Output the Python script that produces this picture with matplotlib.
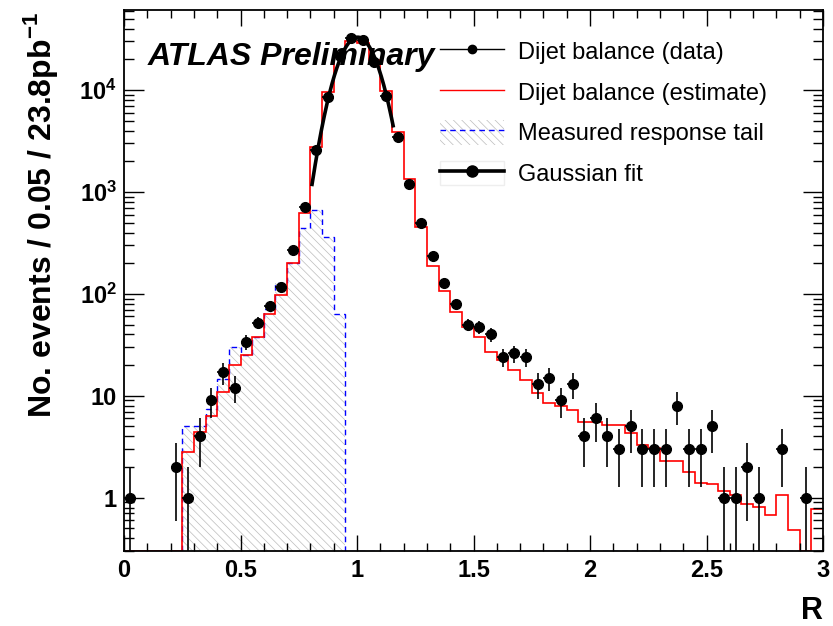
import numpy as np
import matplotlib
matplotlib.use('Agg')
import matplotlib.pyplot as plt
from matplotlib.lines import Line2D
from matplotlib.patches import Patch
from matplotlib.ticker import FixedLocator, MultipleLocator, LogLocator, NullFormatter, FixedFormatter

plt.rcParams['font.family'] = ['Liberation Sans', 'DejaVu Sans']
plt.rcParams['mathtext.fontset'] = 'custom'
plt.rcParams['mathtext.rm'] = 'Liberation Sans'
plt.rcParams['mathtext.bf'] = 'Liberation Sans:bold'
plt.rcParams['hatch.linewidth'] = 0.5

# 60 bins of width 0.05 in R, from 0 to 3
bin_edges = np.linspace(0, 3, 61)

# dijet balance, data (events per bin)
data_counts = [1, 0, 0, 0, 2, 1, 4, 9, 17, 12,
               34, 52, 76, 117, 270, 710, 2580, 8500, 21500, 32400,
               31000, 18700, 8700, 3500, 1200, 500, 235, 128, 80, 50,
               47, 40, 24, 26, 24, 13, 15, 9, 13, 4,
               6, 4, 3, 5, 3, 3, 3, 8, 3, 3,
               5, 1, 1, 2, 1, 0, 3, 0, 1, 0]

# dijet balance, estimate
estimate = [0, 0, 0, 0, 0, 2.8, 4.4, 6.4, 11, 20,
            25, 38, 63, 98, 200, 620, 2760, 9500, 21000, 30000,
            29000, 19500, 9800, 3870, 1340, 455, 188, 107, 66, 47,
            38, 27, 22.5, 18, 14.4, 10.7, 8.5, 8.0, 7.3, 5.5,
            5.5, 5.2, 5.2, 4.3, 3.3, 3.1, 2.3, 2.3, 1.8, 1.4,
            1.37, 1.17, 1.07, 0.87, 0.81, 0.67, 1.07, 0.48, 0, 0.78]

# measured response tail
tail_counts = [0, 0, 0, 0, 0, 5.0, 5.0, 7.5, 14.7, 30,
               25, 38, 71, 128, 200, 445, 665, 363, 63, 0] + [0] * 40

# gaussian fit
fit_amp = 33000
fit_mean = 1.003
fit_sigma = 0.076
fit_range = (0.807, 1.155)

y_lo, y_hi = 0.30, 6.1e4
hatch_col = '#bcbcbc'

fig = plt.figure(figsize=(8.33, 6.26), dpi=100)
ax = fig.add_axes([124/833, 75/626, 699/833, 541/626])
ax.set_yscale('log')
ax.set_xlim(0, 3)
ax.set_ylim(y_lo, y_hi)

tail = np.array(tail_counts, float)
tail_plot = np.where(tail > 0, tail, y_lo)
ax.stairs(tail_plot, bin_edges, baseline=y_lo, fill=True, facecolor='none',
          edgecolor=hatch_col, hatch='\\\\\\\\', linewidth=0)
ax.stairs(tail_plot, bin_edges, baseline=None, color='blue', lw=1.0, ls=(0, (4, 3)))

est = np.array(estimate, float)
ax.stairs(np.where(est > 0, est, y_lo), bin_edges, baseline=None, color='red', lw=1.2)

centers = 0.5 * (bin_edges[1:] + bin_edges[:-1])
n = np.array(data_counts, float)
m = n > 0
err_hi = np.sqrt(n[m])
err_lo = n[m] - np.maximum(n[m] - np.sqrt(n[m]), 1e-3)
ax.errorbar(centers[m], n[m], xerr=0.025, yerr=[err_lo, err_hi], fmt='o',
            color='black', ms=7, elinewidth=1.2, capsize=0)

xf = np.linspace(fit_range[0], fit_range[1], 200)
ax.plot(xf, fit_amp * np.exp(-0.5 * ((xf - fit_mean) / fit_sigma) ** 2),
        color='black', lw=2.6)

# axes, ROOT style
ax.xaxis.set_major_locator(MultipleLocator(0.5))
ax.xaxis.set_minor_locator(MultipleLocator(0.1))
ax.xaxis.set_major_formatter(plt.FuncFormatter(lambda v, p: '%g' % v))
ax.yaxis.set_major_locator(FixedLocator([1, 10, 100, 1000, 10000]))
ax.yaxis.set_major_formatter(FixedFormatter(['1', '10', r'$\mathbf{10^{2}}$',
                                             r'$\mathbf{10^{3}}$', r'$\mathbf{10^{4}}$']))
ax.yaxis.set_minor_locator(LogLocator(base=10, subs=np.arange(2, 10), numticks=100))
ax.yaxis.set_minor_formatter(NullFormatter())
ax.tick_params(which='both', direction='in', top=True, right=True, width=1)
ax.tick_params(axis='x', which='major', length=11.5, pad=6)
ax.tick_params(axis='x', which='minor', length=5.8)
ax.tick_params(axis='y', which='major', length=14.4, pad=5)
ax.tick_params(axis='y', which='minor', length=7.2)
for lab in ax.get_xticklabels() + ax.get_yticklabels():
    lab.set_fontsize(17)
    lab.set_fontweight('bold')
for s in ax.spines.values():
    s.set_linewidth(1.3)

# legend
h_data = Line2D([], [], color='black', lw=1, marker='o', ms=6)
h_est = Line2D([], [], color='red', lw=1)
h_tail = (Patch(facecolor='white', edgecolor=hatch_col, hatch='\\\\\\\\', lw=0),
          Line2D([], [], color='blue', lw=1, ls=(0, (4, 3))))
h_fit = (Patch(facecolor='none', edgecolor='#eeeeee', lw=1),
         Line2D([], [], color='black', lw=2.6, marker='o', ms=8))
fig.legend([h_data, h_est, h_tail, h_fit],
           ['Dijet balance (data)', 'Dijet balance (estimate)',
            'Measured response tail', 'Gaussian fit'],
           loc='upper left', bbox_to_anchor=(440/833, 1 - 39/626), frameon=False,
           fontsize=17, handlelength=2.7, handleheight=1.2, handletextpad=0.6,
           labelspacing=0.66, borderpad=0, borderaxespad=0)

fig.text(148/833, 1 - 65/626, 'ATLAS Preliminary', fontsize=23,
         fontweight='bold', fontstyle='italic', va='baseline')
fig.text(41/833, 1 - 12/626, 'No. events / 0.05 / 23.8pb$^{\\mathbf{-1}}$',
         rotation=90, fontsize=23, fontweight='bold', ha='center', va='top')
fig.text(823/833, 1 - 619/626, 'R', fontsize=22, fontweight='bold',
         ha='right', va='baseline')

fig.savefig('out.png', dpi=100)
